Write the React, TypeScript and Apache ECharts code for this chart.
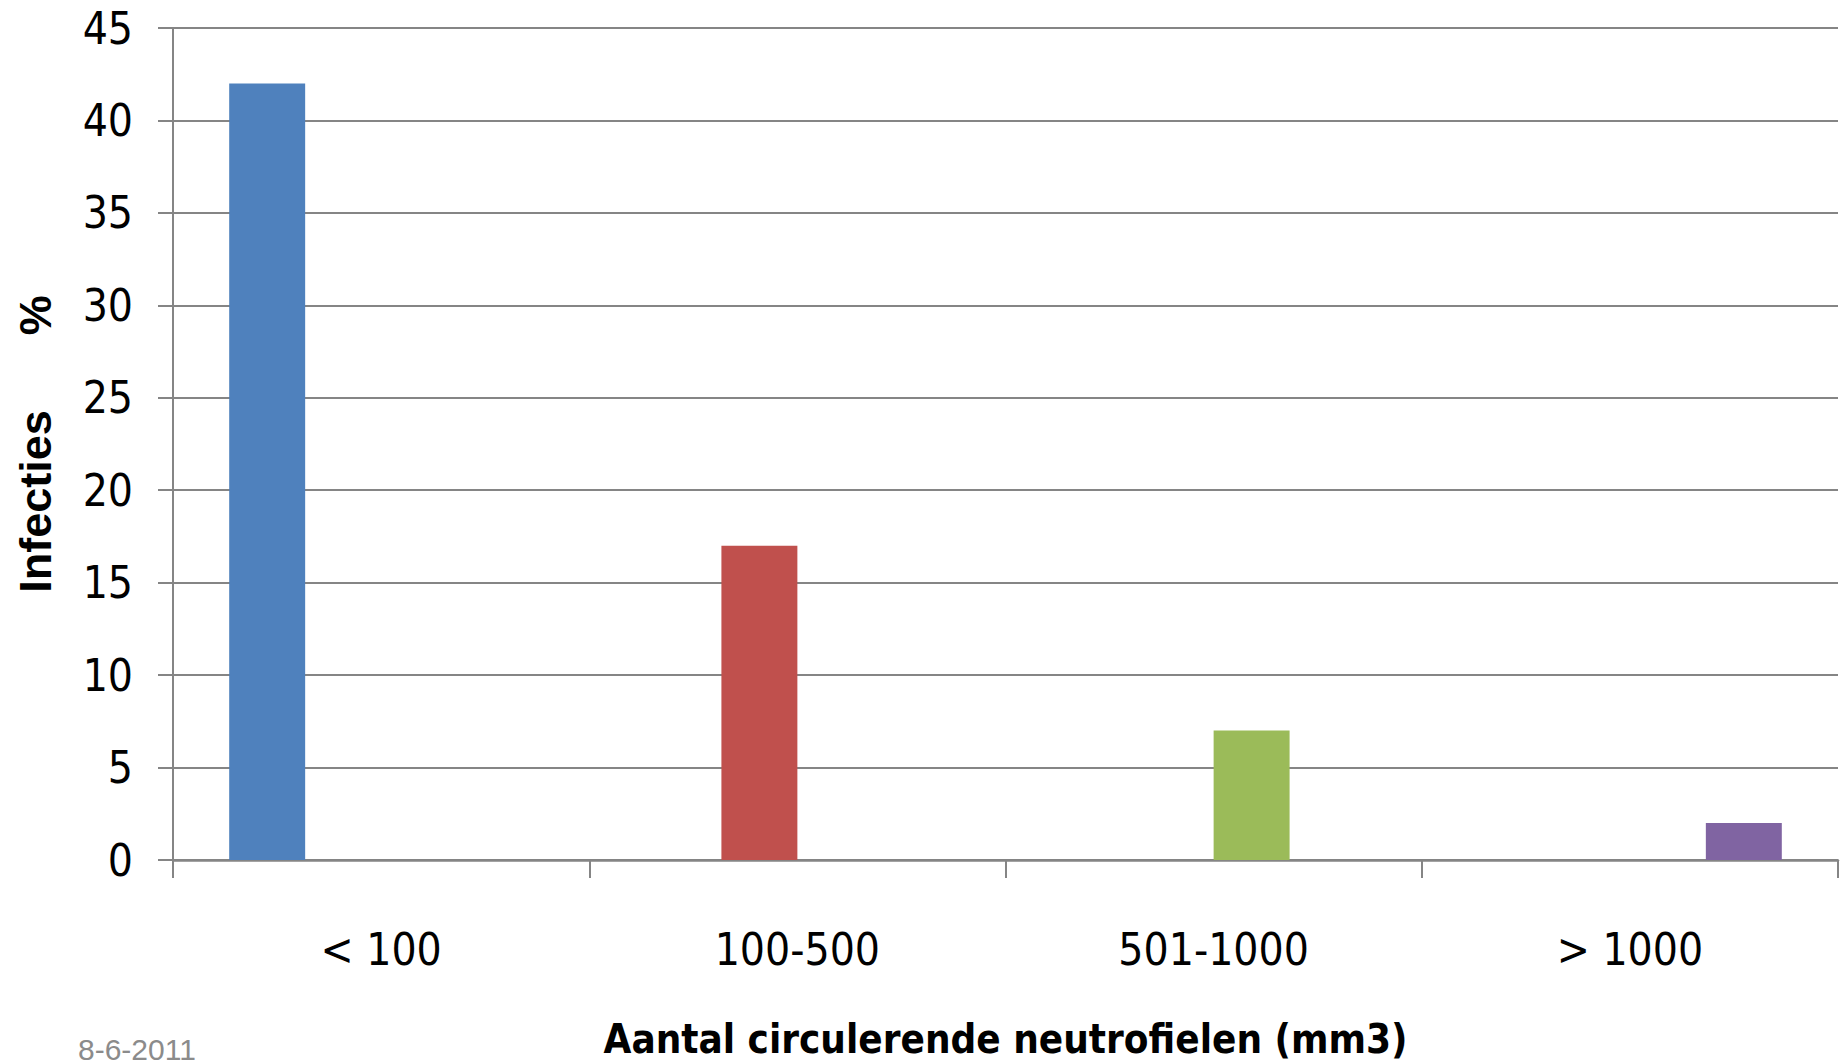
import React, { useEffect, useRef } from "react";
import * as echarts from "echarts";

const categories = ["< 100", "100-500", "501-1000", "> 1000"];
const values = [42, 17, 7, 2];
const barColors = ["#4F81BD", "#C0504D", "#9BBB59", "#8064A2"];
const yTicks = { min: 0, max: 45, interval: 5 };
const xAxisTitle = "Aantal circulerende neutrofielen (mm3)";
const yAxisTitle = "Infecties      %";
const footerDate = "8-6-2011";

const NARROW = '"Liberation Sans Narrow", "Arial Narrow", "DejaVu Sans Condensed", sans-serif';
const WIDE = '"Liberation Sans", Arial, sans-serif';

export default function App() {
  const ref = useRef<HTMLDivElement>(null);
  useEffect(() => {
    if (!ref.current) return;
    const chart = echarts.init(ref.current, null, { renderer: "svg" });
    const series = values.map((v, i) => ({
      type: "bar",
      name: categories[i],
      data: categories.map((_, j) => (j === i ? v : 0)),
      itemStyle: { color: barColors[i] },
      barGap: "0%",
      barCategoryGap: "27%",
    }));
    chart.setOption({
      animation: false,
      backgroundColor: "#ffffff",
      grid: { left: 173, right: 5, top: 28, bottom: 202, containLabel: false },
      xAxis: {
        type: "category",
        data: categories,
        boundaryGap: true,
        axisLine: { show: true, lineStyle: { color: "#858585", width: 2.5 } },
        axisTick: { show: true, length: 18, alignWithLabel: false, lineStyle: { color: "#858585", width: 2 } },
        axisLabel: { color: "#000", fontFamily: NARROW, fontSize: 44, margin: 67 },
        name: xAxisTitle,
        nameLocation: "middle",
        nameGap: 159,
        nameTextStyle: { color: "#000", fontFamily: NARROW, fontWeight: "bold", fontSize: 40 },
      },
      yAxis: {
        type: "value",
        min: yTicks.min,
        max: yTicks.max,
        interval: yTicks.interval,
        axisLine: { show: true, lineStyle: { color: "#858585", width: 2 } },
        axisTick: { show: true, length: 15, inside: false, lineStyle: { color: "#858585", width: 2 } },
        splitLine: { show: true, lineStyle: { color: "#858585", width: 2 } },
        axisLabel: { color: "#000", fontFamily: NARROW, fontSize: 44, margin: 40 },
        name: yAxisTitle,
        nameLocation: "middle",
        nameRotate: 90,
        nameGap: 115,
        nameTextStyle: { color: "#000", fontFamily: WIDE, fontWeight: "bold", fontSize: 45 },
      },
      series,
      graphic: [
        {
          type: "text",
          left: 78,
          top: 1034,
          style: { text: footerDate, fill: "#8b8b8b", font: `30px ${WIDE}` },
        },
      ],
    });
    return () => chart.dispose();
  }, []);
  return (
    <div
      ref={ref}
      style={{ position: "fixed", left: 0, top: 0, width: 1843, height: 1064, background: "#fff" }}
    />
  );
}
